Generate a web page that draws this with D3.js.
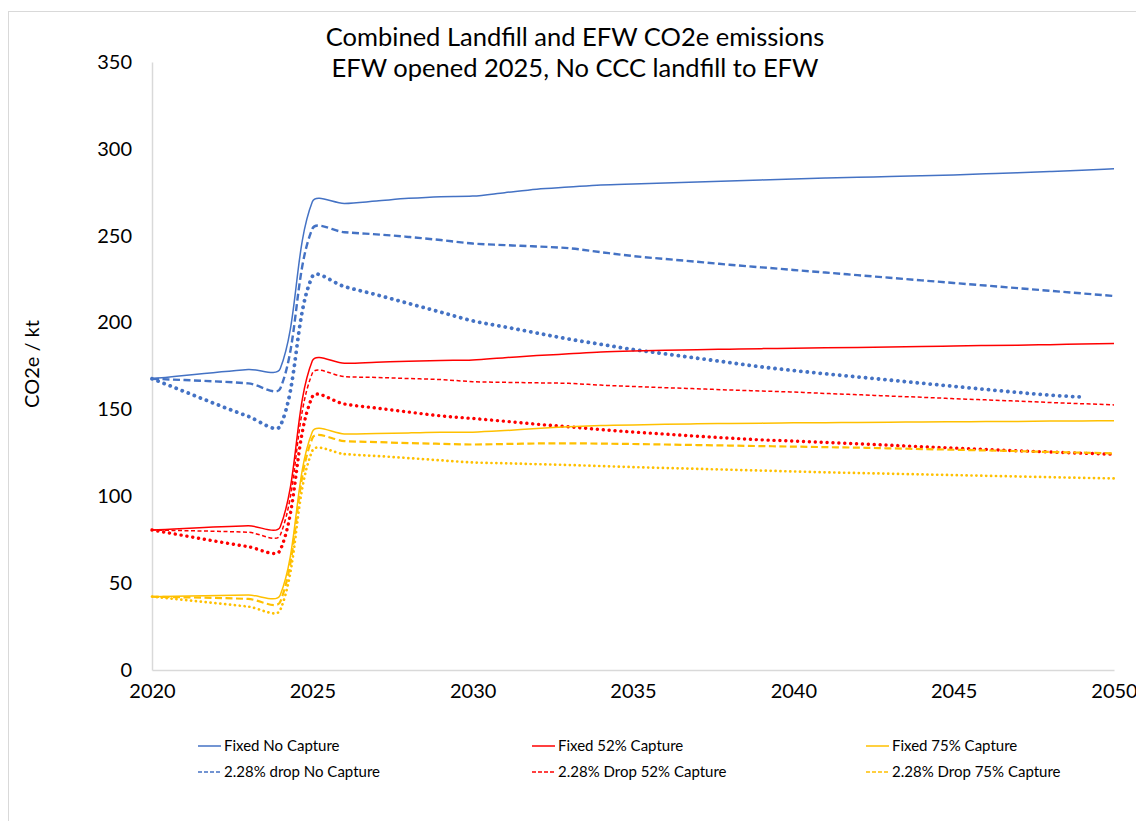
<!DOCTYPE html>
<html>
<head>
<meta charset="utf-8">
<script src="https://cdn.jsdelivr.net/npm/d3@7"></script>
<style>
  html, body { margin: 0; padding: 0; background: #fff; }
  svg { display: block; }
  text { font-family: Lato, "Open Sans", sans-serif; fill: #000; }
</style>
</head>
<body>
<svg id="chart" width="1136" height="821"></svg>
<script>
// ---------- DATA ----------
const years = [2020, 2023, 2024, 2025, 2026, 2027, 2028, 2029, 2030, 2031, 2032, 2033, 2034, 2035,
  2036, 2037, 2038, 2039, 2040, 2041, 2042, 2043, 2044, 2045, 2046, 2047, 2048, 2049, 2050];

const fixedNoCapture = [167.7, 173, 173.5, 269.5, 268.6, 270, 271.5, 272.5, 272.8, 274.8, 276.8, 278, 279.2, 279.8,
  280.3, 280.9, 281.5, 282.1, 282.7, 283.2, 283.6, 284.1, 284.5, 285, 285.6, 286.2, 286.9, 287.7, 288.6];
const dropNoCapture = [167.7, 165, 162, 254, 252, 250.8, 249.3, 247.5, 245.5, 244.6, 243.8, 242.8, 240.5, 238.3,
  236.6, 235, 233.3, 231.8, 230.3, 228.8, 227.3, 225.8, 224.3, 222.8, 221.3, 219.8, 218.3, 216.8, 215.3];
const dottedNoCapture = [167.7, 146, 140.5, 226.5, 220.7, 216, 211, 206, 201, 197.5, 194, 190.5, 187.5, 184.5,
  182, 179.5, 177, 174.5, 172.4, 170.5, 168.7, 166.9, 165.1, 163.3, 161.5, 159.8, 158.2, 157.1, null];

const fixed52 = [80.6, 83, 82.5, 178, 176.6, 177.2, 177.7, 178.2, 178.5, 179.8, 181, 182, 183, 183.6,
  184, 184.4, 184.7, 185, 185.2, 185.5, 185.7, 186, 186.2, 186.5, 186.8, 187, 187.3, 187.6, 187.9];
const drop52 = [80.6, 79.3, 77.7, 170.8, 168.9, 168.4, 167.8, 167.2, 166, 165.6, 165.3, 165, 164, 163.2,
  162.5, 161.9, 161.2, 160.6, 160, 159.2, 158.5, 157.7, 157, 156.2, 155.5, 154.8, 154, 153.3, 152.6];
const dotted52 = [80.6, 71, 69, 157.3, 153.1, 150.8, 148.5, 146.3, 144.8, 143.2, 141.5, 140, 138.4, 137,
  135.8, 134.6, 133.5, 132.5, 131.8, 131, 130.2, 129.4, 128.6, 127.8, 127, 126.2, 125.5, 124.8, 124.2];

const fixed75 = [42.2, 43.2, 43.2, 137.2, 135.9, 136.2, 136.5, 136.8, 136.9, 137.8, 139, 140, 140.7, 141.1,
  141.4, 141.7, 141.9, 142.1, 142.3, 142.4, 142.5, 142.6, 142.8, 142.9, 143, 143.1, 143.3, 143.4, 143.5];
const drop75 = [42.2, 40.9, 39.3, 133.4, 131.8, 131.2, 130.6, 130.2, 129.8, 130.1, 130.4, 130.5, 130.3, 130.1,
  129.8, 129.5, 129.2, 128.9, 128.6, 128.3, 128, 127.6, 127.2, 126.8, 126.4, 126, 125.5, 125.1, 124.7];
const dotted75 = [42.2, 36.5, 34.5, 126.2, 124.3, 123.2, 122, 120.7, 119.5, 119, 118.5, 118, 117.4, 116.8,
  116.3, 115.8, 115.3, 114.8, 114.3, 113.8, 113.4, 113, 112.6, 112.2, 111.8, 111.4, 111, 110.6, 110.3];

const xTicks = [2020, 2025, 2030, 2035, 2040, 2045, 2050];
const yTicks = [0, 50, 100, 150, 200, 250, 300, 350];

const titleLines = ["Combined Landfill and EFW CO2e emissions", "EFW opened 2025, No CCC landfill to EFW"];
const yTitle = "CO2e / kt";

const series = [
  { name: "Fixed No Capture", values: fixedNoCapture, color: "#4472C4", style: "solid", legend: true },
  { name: "2.28% drop No Capture", values: dropNoCapture, color: "#4472C4", style: "dashBlue", legend: true },
  { name: "dotted No Capture", values: dottedNoCapture, color: "#4472C4", style: "dotBlue", legend: false },
  { name: "Fixed 52% Capture", values: fixed52, color: "#FF0000", style: "solid", legend: true },
  { name: "2.28% Drop 52% Capture", values: drop52, color: "#FF0000", style: "dashRed", legend: true },
  { name: "dotted 52% Capture", values: dotted52, color: "#FF0000", style: "dotRed", legend: false },
  { name: "Fixed 75% Capture", values: fixed75, color: "#FFC000", style: "solid", legend: true },
  { name: "2.28% Drop 75% Capture", values: drop75, color: "#FFC000", style: "dashYellow", legend: true },
  { name: "dotted 75% Capture", values: dotted75, color: "#FFC000", style: "dotYellow", legend: false }
];

const styles = {
  solid:      { width: 1.5, dash: null, cap: "butt" },
  dashBlue:   { width: 2.4, dash: "7,3.5", cap: "butt" },
  dashRed:    { width: 1.5, dash: "4,2.5", cap: "butt" },
  dashYellow: { width: 2.2, dash: "7,3.5", cap: "butt" },
  dotBlue:    { width: 3.8, dash: "0.1,6.4", cap: "round" },
  dotRed:     { width: 3.4, dash: "0.1,5.8", cap: "round" },
  dotYellow:  { width: 2.7, dash: "0.1,4.8", cap: "round" }
};

// ---------- Excel-like smoothing curve (distance-weighted cardinal Bezier) ----------
function ExcelSmooth(context) { this._context = context; }
ExcelSmooth.prototype = {
  areaStart() { this._line = 0; },
  areaEnd() { this._line = NaN; },
  lineStart() { this._pts = []; },
  point(px, py) { this._pts.push([+px, +py]); },
  lineEnd() {
    const p = this._pts, c = this._context, n = p.length;
    if (!n) return;
    c.moveTo(p[0][0], p[0][1]);
    const dist = (a, b) => Math.hypot(b[0] - a[0], b[1] - a[1]);
    for (let i = 0; i < n - 1; i++) {
      const P0 = p[i - 1] || p[i], P1 = p[i], P2 = p[i + 1], P3 = p[i + 2] || p[i + 1];
      const d01 = dist(P0, P1), d12 = dist(P1, P2), d23 = dist(P2, P3);
      const f1 = (d01 + d12) > 0 ? d12 / (d01 + d12) / 3 : 0;
      const f2 = (d12 + d23) > 0 ? d12 / (d12 + d23) / 3 : 0;
      const c1x = P1[0] + (P2[0] - P0[0]) * f1, c1y = P1[1] + (P2[1] - P0[1]) * f1;
      const c2x = P2[0] - (P3[0] - P1[0]) * f2, c2y = P2[1] - (P3[1] - P1[1]) * f2;
      c.bezierCurveTo(c1x, c1y, c2x, c2y, P2[0], P2[1]);
    }
  }
};
const curveExcel = context => new ExcelSmooth(context);

// ---------- LAYOUT ----------
const svg = d3.select("#chart");
const W = 1136, H = 821;
const plot = { left: 152, right: 1114, top: 62, bottom: 670 };

const x = d3.scaleLinear().domain([2020, 2050]).range([plot.left, plot.right]);
const y = d3.scaleLinear().domain([0, 350]).range([plot.bottom, plot.top]);

svg.append("rect")
  .attr("x", 8.5).attr("y", 11.5).attr("width", W + 20).attr("height", H + 20)
  .attr("fill", "#fff").attr("stroke", "#d9d9d9").attr("stroke-width", 1);

svg.append("g").selectAll("text").data(titleLines).join("text")
  .attr("x", 575).attr("y", (d, i) => 46 + i * 30.5)
  .attr("text-anchor", "middle")
  .style("font-size", "25.5px")
  .text(d => d);

const xAxis = d3.axisBottom(x).tickValues(xTicks).tickFormat(d3.format("d")).tickSize(0).tickPadding(14);
const gx = svg.append("g").attr("transform", `translate(0,${plot.bottom})`).call(xAxis);
gx.select(".domain").attr("stroke", "#d9d9d9").attr("stroke-width", 1.5);
gx.selectAll("text").style("font-size", "20px").style("font-family", "Lato, 'Open Sans', sans-serif").attr("fill", "#000");

const yAxis = d3.axisLeft(y).tickValues(yTicks).tickSize(0).tickPadding(20);
const gy = svg.append("g").attr("transform", `translate(${plot.left},0)`).call(yAxis);
gy.select(".domain").attr("stroke", "#d9d9d9").attr("stroke-width", 1.5);
gy.selectAll("text").style("font-size", "20px").style("font-family", "Lato, 'Open Sans', sans-serif").attr("fill", "#000");

svg.append("text")
  .attr("transform", "translate(39,364) rotate(-90)")
  .attr("text-anchor", "middle")
  .style("font-size", "20px")
  .text(yTitle);

const line = d3.line()
  .x(d => x(d[0]))
  .y(d => y(d[1]))
  .curve(curveExcel);

const gl = svg.append("g");
series.forEach(s => {
  const st = styles[s.style];
  const pts = years.map((yr, i) => [yr, s.values[i]]).filter(d => d[1] != null);
  gl.append("path")
    .attr("d", line(pts))
    .attr("fill", "none")
    .attr("stroke", s.color)
    .attr("stroke-width", st.width)
    .attr("stroke-dasharray", st.dash)
    .attr("stroke-linecap", st.cap)
    .attr("stroke-linejoin", "round");
});

const legendSeries = series.filter(s => s.legend);
const legendPos = [
  [198, 746], [198, 772],
  [532, 746], [532, 772],
  [866, 746], [866, 772]
];
const legendStyles = {
  solid: { width: 1.5, dash: null },
  dashBlue: { width: 1.5, dash: "4,2" },
  dashRed: { width: 1.5, dash: "4,2" },
  dashYellow: { width: 1.5, dash: "4,2" }
};
const gLeg = svg.append("g");
legendSeries.forEach((s, i) => {
  const [lx, ly] = legendPos[i];
  const ls = legendStyles[s.style];
  gLeg.append("line")
    .attr("x1", lx).attr("x2", lx + 23).attr("y1", ly).attr("y2", ly)
    .attr("stroke", s.color).attr("stroke-width", ls.width)
    .attr("stroke-dasharray", ls.dash);
  gLeg.append("text")
    .attr("x", lx + 26).attr("y", ly + 5)
    .style("font-size", "15px")
    .text(s.name);
});
</script>
</body>
</html>
